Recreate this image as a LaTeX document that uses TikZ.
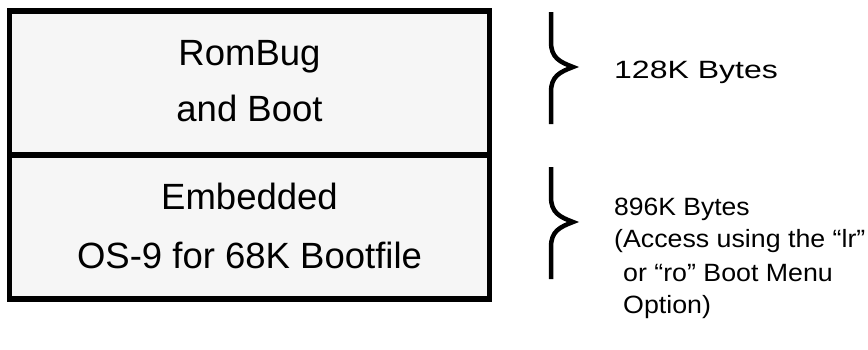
\documentclass[tikz,border=0pt]{standalone}
\usepackage{fontspec}
\setmainfont{Liberation Sans}
\usetikzlibrary{positioning}
\definecolor{boxgray}{RGB}{246,246,246}

\tikzset{
  part/.style={draw, line width=5.5pt, fill=boxgray, minimum width=480pt, minimum height=144pt, inner sep=0pt, outer sep=0pt},
  big/.style={font=\fontsize{36.5}{56}\selectfont, inner sep=0pt, anchor=base},
  note/.style={font=\fontsize{25}{33}\selectfont, inner sep=0pt, anchor=base west},
  curly/.style={line width=4.5pt}
}

\begin{document}
\begin{tikzpicture}[x=1pt,y=-1pt]
\useasboundingbox (0,0) rectangle (868,349);

\node[part] (rom) at (249.5,83) {};
\node[part] (os9) at (249.5,227) {};

\node[big] (rom1) at (249.5,65.5) {RomBug};
\node[big] (rom2) at (249.5,121) {and Boot};
\node[big] (os1) at (249.5,209) {Embedded};
\node[big] (os2) at (249.5,268) {OS-9 for 68K Bootfile};

% sizes
\node[note] (sz1) at (614,78) {\scalebox{1.28}[1]{128K Bytes}};
\node[note] (sz2) at (614,215) {\scalebox{1.06}[1]{896K Bytes}};
\node[note] (acc1) at (614,247) {\scalebox{1.07}[1]{(Access using the “lr”}};
\node[note] (acc2) at (623,281) {\scalebox{1.07}[1]{or “ro” Boot Menu}};
\node[note] (acc3) at (623,313) {\scalebox{1.07}[1]{Option)}};

% braces
\draw[curly] (551,12) -- (551,42) .. controls (551,58) and (560,62) .. (573,67)
             .. controls (560,72) and (551,76) .. (551,92) -- (551,124);
\draw[curly] (551,167) -- (551,197) .. controls (551,213) and (560,217) .. (573,222)
             .. controls (560,227) and (551,231) .. (551,247) -- (551,279);
\end{tikzpicture}
\end{document}
